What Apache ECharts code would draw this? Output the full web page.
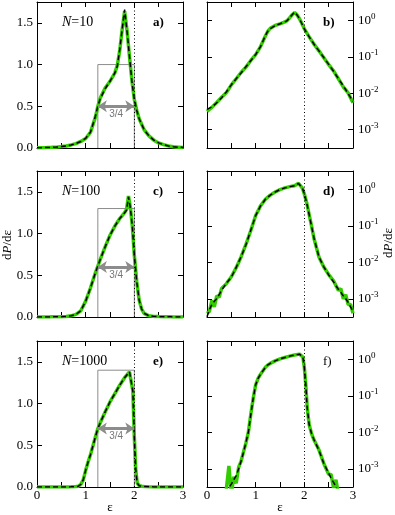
<!DOCTYPE html>
<html>
<head>
<meta charset="utf-8">
<script src="https://cdn.jsdelivr.net/npm/echarts@6/dist/echarts.min.js"></script>
<style>
  html, body { margin: 0; padding: 0; background: #fff; }
  #chart { width: 395px; height: 515px; }
</style>
</head>
<body>
<div id="chart"></div>
<script>
// energy grid and densities, N = 10
const eps10 = [0, 0.1, 0.2, 0.3, 0.4, 0.5, 0.6, 0.7, 0.8, 0.9, 1.0, 1.1, 1.2, 1.25, 1.3, 1.4, 1.5, 1.6, 1.65, 1.7, 1.75, 1.8,
  1.85, 1.9, 1.95, 2.0, 2.05, 2.1, 2.2, 2.3, 2.4, 2.5, 2.6, 2.7, 2.8, 2.9, 3.0]
const theory10 = [0.0036, 0.0042, 0.0055, 0.0075, 0.011, 0.017, 0.025, 0.036, 0.053, 0.078, 0.115, 0.19, 0.38, 0.5, 0.59,
  0.71, 0.8, 0.9, 0.98, 1.18, 1.42, 1.66, 1.4, 1.1, 0.8, 0.58, 0.45, 0.35, 0.22, 0.145, 0.095, 0.062, 0.04, 0.025, 0.016,
  0.0098, 0.006]
const sim10 = [0.0032, 0.0041, 0.0056, 0.0078, 0.0105, 0.017, 0.025, 0.037, 0.052, 0.079, 0.114, 0.19, 0.37, 0.5, 0.6,
  0.72, 0.8, 0.9, 0.99, 1.17, 1.42, 1.64, 1.41, 1.1, 0.81, 0.58, 0.45, 0.35, 0.22, 0.145, 0.094, 0.061, 0.041, 0.025, 0.015,
  0.0102, 0.0055]

// N = 100
const eps100 = [0, 0.05, 0.1, 0.15, 0.2, 0.25, 0.3, 0.4, 0.5, 0.6, 0.7, 0.8, 0.9, 1.0, 1.1, 1.2, 1.25, 1.3, 1.4, 1.5, 1.6,
  1.7, 1.8, 1.84, 1.88, 1.92, 1.96, 2.0, 2.05, 2.1, 2.15, 2.2, 2.3, 2.4, 2.5, 2.6, 2.7, 2.75, 2.8, 2.85, 2.9, 2.95, 3.0]
const theory100 = [0.00032, 0.0005, 0.0007, 0.00085, 0.001, 0.0013, 0.0017, 0.0027, 0.0039, 0.0072, 0.014, 0.03, 0.075,
  0.19, 0.35, 0.53, 0.61, 0.69, 0.84, 0.98, 1.09, 1.18, 1.25, 1.28, 1.44, 1.3, 1.08, 0.74, 0.42, 0.2, 0.095, 0.045, 0.014,
  0.0075, 0.0045, 0.0029, 0.0018, 0.0015, 0.0012, 0.001, 0.0008, 0.0006, 0.00045]
const sim100 = [0.0004, 0.00045, 0.0009, 0.0006, 0.0012, 0.0011, 0.0019, 0.0026, 0.004, 0.0071, 0.014, 0.031, 0.074,
  0.19, 0.35, 0.53, 0.61, 0.69, 0.84, 0.98, 1.09, 1.18, 1.25, 1.29, 1.45, 1.31, 1.08, 0.74, 0.42, 0.2, 0.096, 0.044, 0.014,
  0.0074, 0.0046, 0.0031, 0.0017, 0.0019, 0.001, 0.0013, 0.0007, 0.0007, 0.0004]

// N = 1000
const eps1000 = [0, 0.3, 0.4, 0.45, 0.5, 0.55, 0.6, 0.65, 0.7, 0.75, 0.8, 0.85, 0.9, 0.95, 1.0, 1.05, 1.1, 1.2, 1.25, 1.3,
  1.4, 1.5, 1.6, 1.7, 1.8, 1.9, 1.94, 1.97, 2.0, 2.03, 2.06, 2.1, 2.15, 2.2, 2.3, 2.4, 2.5, 2.55, 2.6, 2.65, 2.7, 2.8, 3.0]
const theory1000 = [1e-6, 1e-5, 0.00025, 0.0003, 0.00038, 0.0005, 0.00065, 0.001, 0.0016, 0.0028, 0.0052, 0.01, 0.03,
  0.085, 0.2, 0.3, 0.39, 0.6, 0.7, 0.77, 0.9, 1.02, 1.12, 1.22, 1.31, 1.38, 1.36, 1.15, 0.6, 0.2, 0.045, 0.016, 0.009,
  0.0062, 0.0032, 0.0014, 0.00075, 0.00055, 0.00042, 0.00033, 0.0002, 1e-5, 1e-6]
const sim1000 = [1e-6, 1e-5, 0.0003, 0.0012, 0.0002, 0.0006, 0.0004, 0.0011, 0.0016, 0.0029, 0.0051, 0.01, 0.031,
  0.085, 0.2, 0.3, 0.39, 0.6, 0.7, 0.77, 0.9, 1.02, 1.12, 1.22, 1.31, 1.38, 1.36, 1.15, 0.6, 0.2, 0.046, 0.016, 0.009,
  0.0061, 0.0033, 0.0014, 0.0007, 0.0007, 0.0003, 0.0005, 0.0002, 1e-5, 1e-6]

const nLabels = ['10', '100', '1000']
const boxHeights = [1.0, 1.3, 1.4]
const arrowHeights = [0.5, 0.6, 0.7]
const panelLetters = [['a)', 'b)'], ['c)', 'd)'], ['e)', 'f)']]
const xTicks = [0, 1, 2, 3]

const rows = [
  { eps: eps10, theory: theory10, sim: sim10 },
  { eps: eps100, theory: theory100, sim: sim100 },
  { eps: eps1000, theory: theory1000, sim: sim1000 }
]

const serif = '"Liberation Serif", "Times New Roman", serif'
const GREEN = '#33cc00'
const LEFT = [37, 207]
const TOP = [2, 171, 341]
const SIZE = 146

const zip = (xs, ys) => xs.map((x, i) => [x, ys[i]])

function logLabel(v) {
  const e = Math.log10(v)
  const r = Math.round(e)
  if (Math.abs(e - r) > 1e-6) return ''
  return '{b|10}{s|' + r + '}'
}

const grid = [], xAxis = [], yAxis = [], series = [], graphic = []

const frameLine = { show: true, onZero: false, lineStyle: { color: '#000', width: 1 } }
const tick = { show: true, inside: true, length: 5, lineStyle: { color: '#000', width: 1 } }

rows.forEach((row, r) => {
  for (let c = 0; c < 2; c++) {
    const k = grid.length
    grid.push({ left: LEFT[c], top: TOP[r], width: SIZE, height: SIZE })

    const xBase = { gridIndex: k, type: 'value', min: 0, max: 3, interval: 0.5, axisLine: frameLine, axisTick: tick, splitLine: { show: false } }
    xAxis.push(Object.assign({}, xBase, {
      position: 'bottom',
      axisLabel: {
        show: r === 2, margin: 2, color: '#000', fontFamily: serif, fontSize: 13,
        formatter: v => (xTicks.indexOf(v) >= 0 ? String(v) : '')
      }
    }))
    xAxis.push(Object.assign({}, xBase, { position: 'top', axisLabel: { show: false } }))

    if (c === 0) {
      const yBase = { gridIndex: k, type: 'value', min: 0, max: 1.75, interval: 0.5, axisLine: frameLine, axisTick: tick, splitLine: { show: false } }
      yAxis.push(Object.assign({}, yBase, {
        position: 'left',
        axisLabel: { margin: 4, color: '#000', fontFamily: serif, fontSize: 13, formatter: v => (v > 1.6 ? '' : v.toFixed(1)) }
      }))
      yAxis.push(Object.assign({}, yBase, { position: 'right', axisLabel: { show: false } }))
    } else {
      const yBase = { gridIndex: k, type: 'log', logBase: 10, min: Math.pow(10, -3.5), max: Math.pow(10, 0.5), axisLine: frameLine, axisTick: tick, splitLine: { show: false } }
      yAxis.push(Object.assign({}, yBase, { position: 'left', axisLabel: { show: false } }))
      yAxis.push(Object.assign({}, yBase, {
        position: 'right',
        axisLabel: {
          margin: 5, formatter: logLabel,
          rich: {
            b: { fontFamily: serif, fontSize: 13, color: '#000' },
            s: { fontFamily: serif, fontSize: 9, color: '#000', padding: [0, 0, 8, 0] }
          }
        }
      }))
    }

    const ax = { xAxisIndex: 2 * k, yAxisIndex: 2 * k }

    if (c === 0) {
      series.push(Object.assign({
        type: 'line', silent: true, showSymbol: false, z: 1,
        data: [[1.25, 0], [1.25, boxHeights[r]], [2, boxHeights[r]], [2, 0]],
        lineStyle: { color: '#8c8c8c', width: 1 },
        markLine: {
          silent: true, symbol: ['arrow', 'arrow'], symbolSize: [9, 9],
          lineStyle: { color: '#8c8c8c', width: 3, type: 'solid' },
          label: { show: true, position: 'insideMiddleBottom', formatter: '3/4', color: '#777', fontSize: 10, fontFamily: 'Liberation Sans, Arial, sans-serif', distance: 3 },
          data: [[{ coord: [1.25, arrowHeights[r]] }, { coord: [2, arrowHeights[r]] }]]
        }
      }, ax))
    }

    series.push(Object.assign({
      type: 'line', silent: true, showSymbol: false, z: 2,
      data: zip(row.eps, row.sim),
      lineStyle: { color: GREEN, width: 3.5 }
    }, ax))

    series.push(Object.assign({
      type: 'line', silent: true, showSymbol: false, z: 3,
      data: zip(row.eps, row.theory),
      lineStyle: { color: '#000', width: 1.5, type: [5, 3] },
      markLine: {
        silent: true, symbol: 'none', label: { show: false },
        lineStyle: { color: '#000', width: 1, type: [1, 2.5] },
        data: [{ xAxis: 2 }]
      }
    }, ax))

    graphic.push({
      type: 'text', left: LEFT[c] + (c === 0 ? 116 : 116), top: TOP[r] + 14,
      style: { text: panelLetters[r][c], fontFamily: serif, fontSize: 13, fontWeight: (r === 2 && c === 1) ? 'normal' : 'bold', fill: '#000' }
    })
  }

  graphic.push({
    type: 'text', left: 62, top: TOP[r] + 13,
    style: {
      text: '{i|N}{n|=' + nLabels[r] + '}',
      rich: {
        i: { fontFamily: serif, fontSize: 14, fontStyle: 'italic', fill: '#000' },
        n: { fontFamily: serif, fontSize: 14, fill: '#000' }
      }
    }
  })
})

const axisTitle = {
  text: '{n|d}{i|P}{n|/dε}',
  rich: {
    i: { fontFamily: serif, fontSize: 13, fontStyle: 'italic', fill: '#000' },
    n: { fontFamily: serif, fontSize: 13, fill: '#000' }
  },
  align: 'center', verticalAlign: 'middle'
}
graphic.push({ type: 'text', x: 8, y: 245, rotation: Math.PI / 2, style: axisTitle })
graphic.push({ type: 'text', x: 389, y: 243, rotation: Math.PI / 2, style: axisTitle })
graphic.push({ type: 'text', x: 110, y: 508, style: { text: 'ε', fontFamily: serif, fontSize: 13, fill: '#000', align: 'center', verticalAlign: 'middle' } })
graphic.push({ type: 'text', x: 280, y: 508, style: { text: 'ε', fontFamily: serif, fontSize: 13, fill: '#000', align: 'center', verticalAlign: 'middle' } })

const chart = echarts.init(document.getElementById('chart'))
chart.setOption({
  animation: false,
  backgroundColor: '#fff',
  grid, xAxis, yAxis, series, graphic
})
</script>
</body>
</html>
